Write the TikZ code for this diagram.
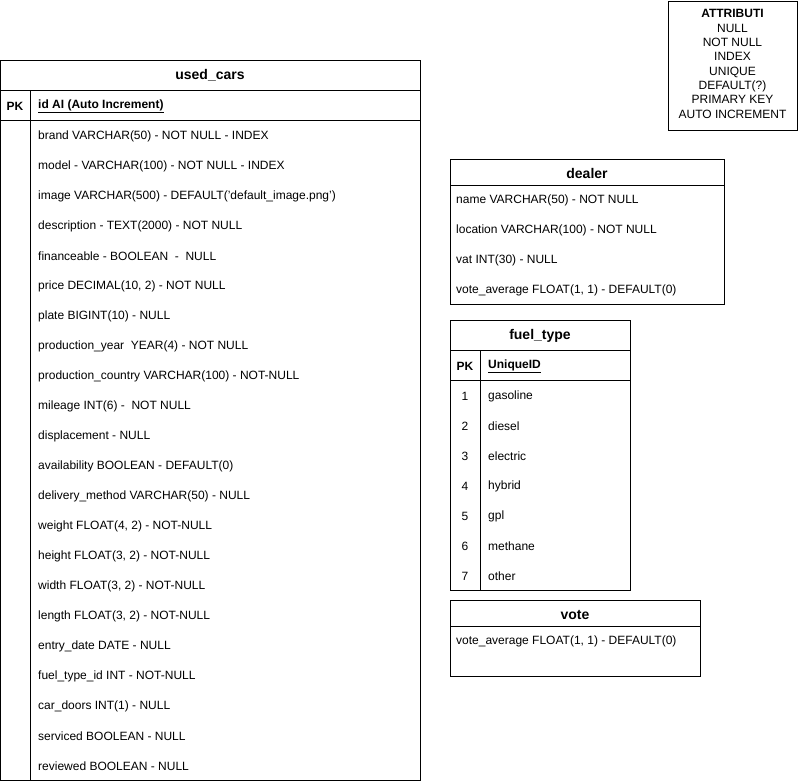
\documentclass[tikz,border=0pt]{standalone}
\usepackage{fontspec}
\setmainfont{Liberation Sans}
\begin{document}
\begin{tikzpicture}[x=1pt,y=-1pt,
  box/.style={draw=black,line width=0.8pt},
  ttl/.style={font=\fontsize{14}{16}\selectfont\bfseries,inner sep=0pt},
  fld/.style={font=\fontsize{12}{14}\selectfont,anchor=west,inner sep=0pt},
  key/.style={font=\fontsize{12}{14}\selectfont,inner sep=0pt}]
\useasboundingbox (0,0) rectangle (798,781);
% used_cars
\draw[box] (0.5,60.5) rectangle (420,780);
\draw[box] (0.5,90.5) -- (420,90.5);
\draw[box] (0.5,120.5) -- (420,120.5);
\draw[box] (30.5,90.5) -- (30.5,780);
\node[ttl] (uc) at (210,75.5) {used\_cars};
\node[key,font=\fontsize{12}{14}\selectfont\bfseries] (ucpk) at (15,106) {PK};
\node[fld,font=\fontsize{12}{14}\selectfont\bfseries] (ucid) at (38,106) {\underline{id AI (Auto Increment)}};
\foreach \t [count=\i from 0] in {
 {brand VARCHAR(50) - NOT NULL - INDEX},
 {model - VARCHAR(100) - NOT NULL - INDEX},
 {image VARCHAR(500) - DEFAULT('default\_image.png')},
 {description - TEXT(2000) - NOT NULL},
 {financeable - BOOLEAN \ - \ NULL},
 {price DECIMAL(10, 2) - NOT NULL},
 {plate BIGINT(10) - NULL},
 {production\_year \ YEAR(4) - NOT NULL},
 {production\_country VARCHAR(100) - NOT-NULL},
 {mileage INT(6) - \ NOT NULL},
 {displacement - NULL},
 {availability BOOLEAN - DEFAULT(0)},
 {delivery\_method VARCHAR(50) - NULL},
 {weight FLOAT(4, 2) - NOT-NULL},
 {height FLOAT(3, 2) - NOT-NULL},
 {width FLOAT(3, 2) - NOT-NULL},
 {length FLOAT(3, 2) - NOT-NULL},
 {entry\_date DATE - NULL},
 {fuel\_type\_id INT - NOT-NULL},
 {car\_doors INT(1) - NULL},
 {serviced BOOLEAN - NULL},
 {reviewed BOOLEAN - NULL}}
 \node[fld] (ucf\i) at (38,{136+30*\i}) {\t};
% ATTRIBUTI
\draw[box] (668.5,1.5) rectangle (797,130);
\node[font=\fontsize{12}{14.3}\selectfont,align=center,inner sep=0pt,anchor=north] (attr) at (732.5,9.5)
 {\textbf{ATTRIBUTI}\\NULL\\NOT NULL\\INDEX\\UNIQUE\\DEFAULT(?)\\PRIMARY KEY\\AUTO INCREMENT};
% dealer
\draw[box] (450.5,159.5) rectangle (724,304);
\draw[box] (450.5,185.5) -- (724,185.5);
\node[ttl] (dl) at (587,173.5) {dealer};
\node[fld] (dl0) at (456,200) {name VARCHAR(50) - NOT NULL};
\node[fld] (dl1) at (456,230) {location VARCHAR(100) - NOT NULL};
\node[fld] (dl2) at (456,260) {vat INT(30) - NULL};
\node[fld] (dl3) at (456,290) {vote\_average FLOAT(1, 1) - DEFAULT(0)};
% fuel_type
\draw[box] (450.5,320.5) rectangle (630,590);
\draw[box] (450.5,350.5) -- (630,350.5);
\draw[box] (450.5,380.5) -- (630,380.5);
\draw[box] (480.5,350.5) -- (480.5,590);
\node[ttl] (ft) at (540,335.5) {fuel\_type};
\node[key,font=\fontsize{12}{14}\selectfont\bfseries] (ftpk) at (465,366) {PK};
\node[fld,font=\fontsize{12}{14}\selectfont\bfseries] (ftid) at (488,366) {\underline{UniqueID}};
\foreach \n/\t [count=\i from 0] in {1/gasoline,2/diesel,3/electric,4/hybrid,5/gpl,6/methane,7/other}{
 \node[key] (ftk\i) at (465,{396+30*\i}) {\n};
 \node[fld] (ftv\i) at (488,{396+30*\i}) {\t};
}
% vote
\draw[box] (450.5,600.5) rectangle (700,676);
\draw[box] (450.5,626.5) -- (700,626.5);
\node[ttl] (vt) at (575,614.5) {vote};
\node[fld] (vt0) at (456,641) {vote\_average FLOAT(1, 1) - DEFAULT(0)};
\end{tikzpicture}
\end{document}
